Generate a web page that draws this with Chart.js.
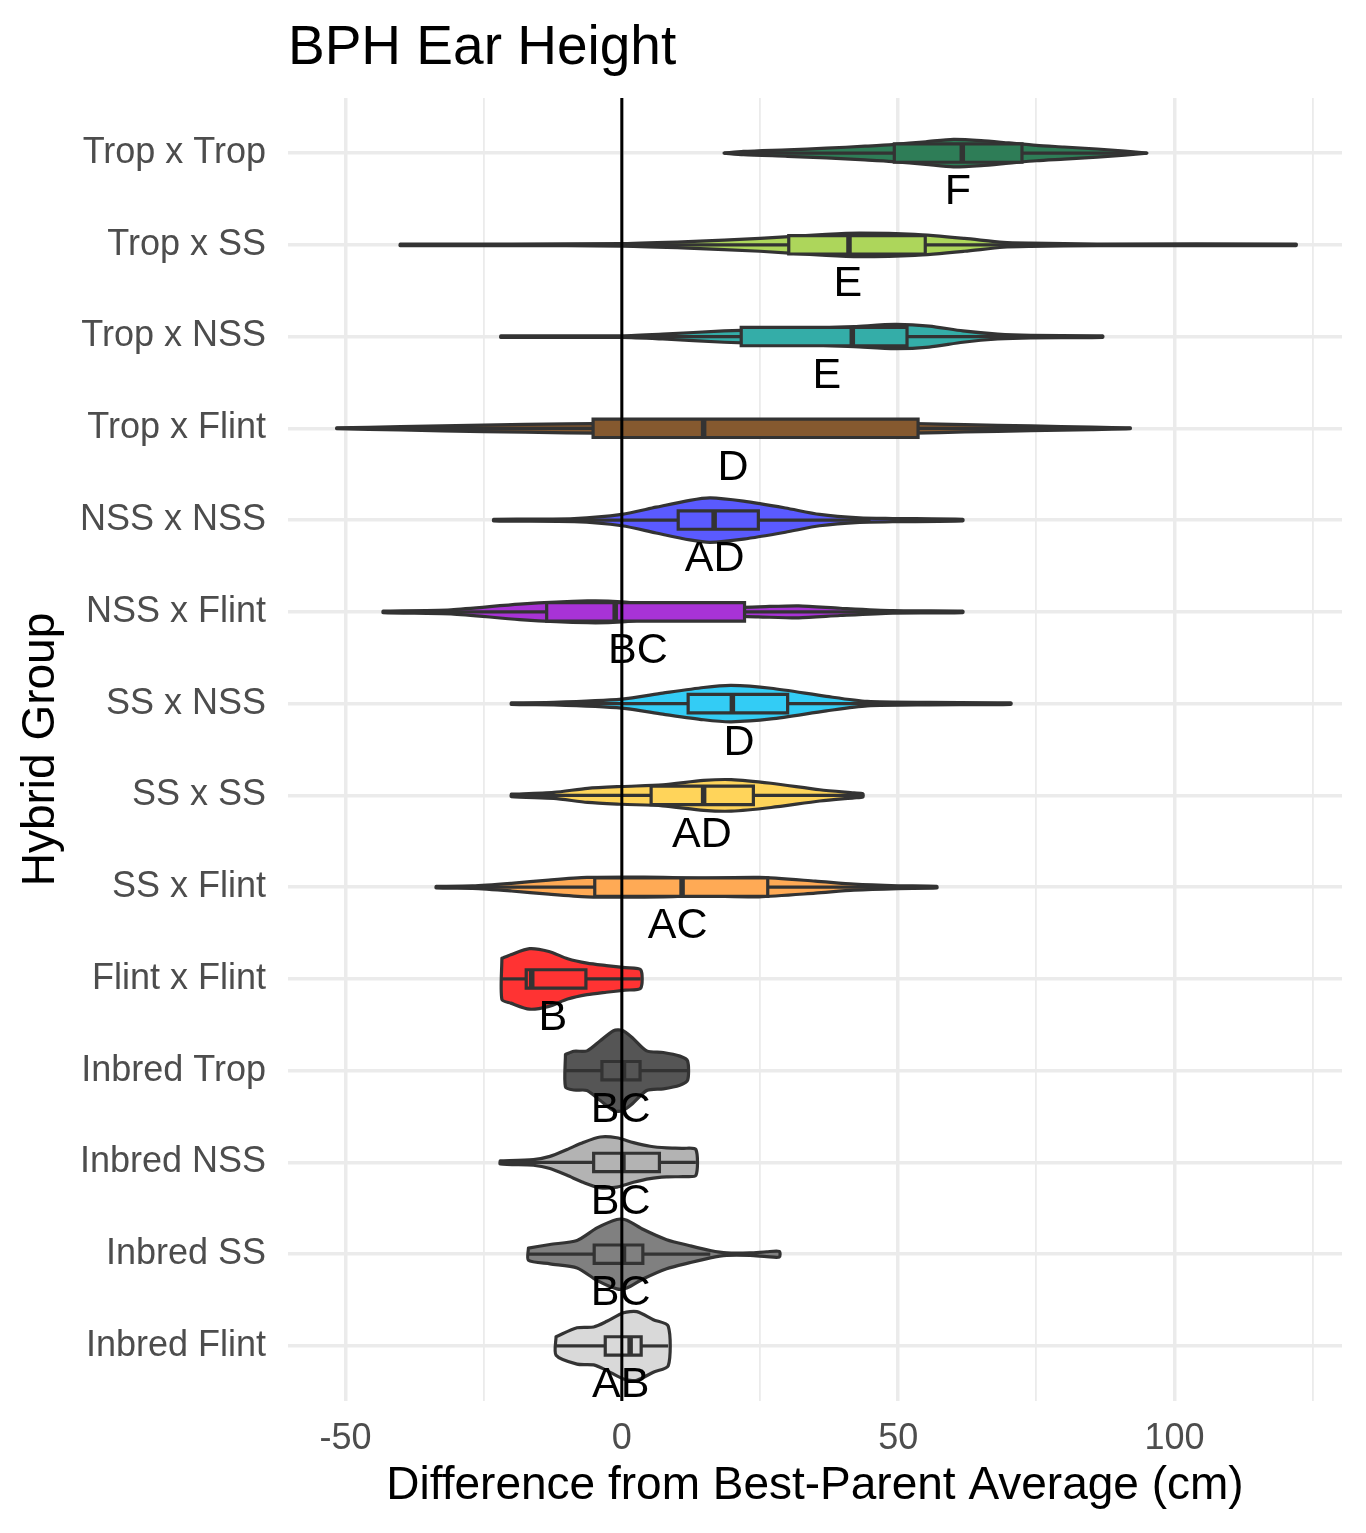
<!DOCTYPE html>
<html>
<head>
<meta charset="utf-8">
<title>BPH Ear Height</title>
<script src="https://cdn.jsdelivr.net/npm/chart.js@4.4.1/dist/chart.umd.min.js"></script>
<style>
  html, body { margin: 0; padding: 0; background: #fff; }
  #wrap { position: relative; width: 1366px; height: 1533px; }
</style>
</head>
<body>
<div id="wrap"><canvas id="chart"></canvas></div>
<script>
const categories = ['Trop x Trop', 'Trop x SS', 'Trop x NSS', 'Trop x Flint', 'NSS x NSS', 'NSS x Flint',
    'SS x NSS', 'SS x SS', 'SS x Flint', 'Flint x Flint', 'Inbred Trop', 'Inbred NSS', 'Inbred SS', 'Inbred Flint'];
const fillColors = ['#2E7D57', '#ADD65B', '#34ADA8', '#85592F', '#5A5AFF', '#A833D6', '#33CCF5',
    '#FFD45A', '#FFAA55', '#FF3333', '#555555', '#B3B3B3', '#808080', '#D9D9D9'];

// box stats (cm)
const q1 = [49.3, 30.2, 21.6, -5.2, 10.2, -13.6, 12, 5.3, -4.9, -17.3, -3.6, -5.1, -5, -3];
const median = [61.6, 41.1, 41.7, 14.8, 16.7, -1.2, 20, 14.8, 10.9, -16.3, 0.3, 0.2, 0.3, 1.5];
const q3 = [72.4, 54.9, 51.6, 53.6, 24.7, 22.2, 30, 23.8, 26.4, -6.5, 3.3, 6.8, 3.8, 3.5];
const whiskerLo = [18.5, -5, -21.9, -51.6, -10, -43.2, -12, -20, -33.6, -21.7, -10.2, -22, -16.9, -11.9];
const whiskerHi = [95, 87, 87, 92, 45, 61.7, 55, 43.6, 57, 3.4, 11.9, 13.4, 16, 8.4];

// group letters and where they sit
const letters = ['F', 'E', 'E', 'D', 'AD', 'BC', 'D', 'AD', 'AC', 'B', 'BC', 'BC', 'BC', 'AB'];
const letterX = [60.8, 40.9, 37.1, 20.1, 16.8, 2.9, 21.2, 14.5, 10.1, -12.5, -0.2, -0.2, -0.2, -0.2];

// violin outlines: [value in cm, relative density]
const densities = [
    [[18.5,0],[22,.04],[30,.08],[37,.12],[44,.17],[49,.21],[55,.28],[60,.34],[65,.31],[70,.25],[75,.19],[80,.15],[86,.1],[91,.05],[95,0]],
    [[-40.1,.02],[-20,.02],[0,.03],[12,.08],[25,.16],[37,.26],[43,.29],[53,.26],[62,.16],[69,.06],[74,.04],[86,.02],[122,.02]],
    [[-21.9,.02],[0,.02],[7.4,.06],[18.5,.14],[30.9,.19],[42,.25],[49.4,.3],[55.6,.26],[61.7,.14],[68,.06],[74,.03],[87,.02]],
    [[-51.6,.01],[-40,.04],[-25,.08],[-10,.11],[0,.12],[10,.11],[20,.08],[28,.05],[35,.08],[45,.12],[53,.12],[62,.09],[74,.06],[85,.03],[92,.01]],
    [[-23.2,.02],[-8.6,.04],[0,.14],[6.2,.32],[12.3,.49],[16,.55],[22,.47],[29.6,.3],[35.8,.14],[43,.055],[49,.04],[61.7,.02]],
    [[-43.2,.02],[-30.9,.05],[-18.5,.19],[-6.2,.27],[0,.25],[7.4,.15],[14.8,.09],[24.7,.125],[32,.15],[39.5,.09],[49,.03],[61.7,.02]],
    [[-20,.02],[-12.3,.03],[0,.11],[7.4,.26],[14.8,.4],[19.8,.45],[27,.38],[37,.18],[44.4,.055],[55.6,.03],[70.4,.02]],
    [[-20,.03],[-12.3,.075],[-6.2,.175],[0,.22],[7.4,.26],[14.8,.37],[19.8,.39],[27,.3],[35.8,.14],[42,.06],[43.6,.04]],
    [[-33.6,.02],[-27,.03],[-20,.095],[-13.2,.175],[-6.3,.24],[0.6,.25],[7.5,.24],[14.5,.22],[24.8,.24],[35,.15],[42,.075],[50,.035],[57,.02]],
    [[-21.7,.51],[-20.1,.6],[-16.7,.75],[-13.2,.68],[-9.8,.5],[-6.3,.39],[-2.8,.33],[0.6,.28],[3.4,.23]],
    [[-10.2,.4],[-8.7,.48],[-6.3,.49],[-3.9,.74],[-1.5,.99],[0,1],[1.8,.83],[4.5,.49],[7.5,.45],[10.5,.36],[11.9,.24]],
    [[-22,.04],[-16,.07],[-13,.15],[-9.9,.32],[-6.9,.5],[-3.9,.63],[-0.9,.61],[2.1,.49],[5.1,.4],[8.1,.36],[11.1,.35],[13.4,.32]],
    [[-16.9,.15],[-13,.24],[-8.1,.34],[-4.5,.65],[-0.9,.86],[0.9,.84],[3.9,.61],[8.1,.36],[12.3,.21],[16,.09],[19,.03],[23.2,.03],[26.2,.06],[28.5,.07]],
    [[-11.9,.23],[-8.1,.45],[-5.1,.47],[-2.7,.61],[0.3,.82],[2.7,.85],[5.7,.65],[8.4,.49]]
];

const xTicks = [-50, -25, 0, 25, 50, 75, 100, 125];

const VIOLIN_HALF = 0.44;
const BOX_HALF = 0.1;
const OUTLINE = '#333333';
const LINE_W = 3.2;
const FONT = '"Liberation Sans", Arial, Helvetica, sans-serif';

Chart.defaults.font.family = FONT;

function violinPoints(i) {
    const d = densities[i];
    const top = d.map(p => ({ x: p[0], y: i - p[1] * VIOLIN_HALF }));
    const bottom = d.slice().reverse().map(p => ({ x: p[0], y: i + p[1] * VIOLIN_HALF }));
    return top.concat(bottom, [top[0]]);
}

function boxPoints(i) {
    return [
        { x: q1[i], y: i - BOX_HALF }, { x: q3[i], y: i - BOX_HALF },
        { x: q3[i], y: i + BOX_HALF }, { x: q1[i], y: i + BOX_HALF },
        { x: q1[i], y: i - BOX_HALF }, { x: q3[i], y: i - BOX_HALF }
    ];
}

const datasets = [];
categories.forEach((cat, i) => {
    datasets.push({
        label: cat, data: violinPoints(i), backgroundColor: fillColors[i],
        borderColor: OUTLINE, borderWidth: LINE_W, fill: 'shape', tension: 0.25,
        borderJoinStyle: 'round', borderCapStyle: 'round', order: 5
    });
    datasets.push({
        data: [{ x: whiskerLo[i], y: i }, { x: q1[i], y: i }],
        borderColor: OUTLINE, borderWidth: LINE_W, fill: false, order: 4
    });
    datasets.push({
        data: [{ x: q3[i], y: i }, { x: whiskerHi[i], y: i }],
        borderColor: OUTLINE, borderWidth: LINE_W, fill: false, order: 4
    });
    datasets.push({
        data: boxPoints(i), backgroundColor: fillColors[i], borderColor: OUTLINE,
        borderWidth: LINE_W, fill: 'shape', tension: 0, borderJoinStyle: 'miter', order: 3
    });
    datasets.push({
        data: [{ x: median[i], y: i - BOX_HALF }, { x: median[i], y: i + BOX_HALF }],
        borderColor: OUTLINE, borderWidth: 5.5, fill: false, order: 2
    });
});
// reference line at zero
datasets.push({
    data: [{ x: 0, y: -0.6 }, { x: 0, y: categories.length - 0.4 }],
    borderColor: '#000000', borderWidth: 3, fill: false, order: 1
});

const titlePlugin = {
    id: 'plotTitle',
    afterDraw(chart) {
        const ctx = chart.ctx;
        ctx.save();
        ctx.font = '55px ' + FONT;
        ctx.fillStyle = '#000';
        ctx.textAlign = 'left';
        ctx.textBaseline = 'alphabetic';
        ctx.fillText('BPH Ear Height', chart.chartArea.left, 64);
        ctx.restore();
    }
};

const letterPlugin = {
    id: 'groupLetters',
    afterDatasetsDraw(chart) {
        const { ctx, scales: { x, y } } = chart;
        ctx.save();
        ctx.font = '43px ' + FONT;
        ctx.fillStyle = '#000';
        ctx.textAlign = 'center';
        ctx.textBaseline = 'middle';
        letters.forEach((t, i) => {
            ctx.fillText(t, x.getPixelForValue(letterX[i]), y.getPixelForValue(i + 0.43));
        });
        ctx.restore();
    }
};

new Chart(document.getElementById('chart'), {
    type: 'line',
    data: { datasets },
    options: {
        responsive: true,
        maintainAspectRatio: false,
        devicePixelRatio: 1,
        animation: false,
        events: [],
        layout: { padding: { top: 98, right: 24, bottom: 0, left: 0 } },
        elements: { point: { radius: 0, hoverRadius: 0 } },
        plugins: { legend: { display: false }, tooltip: { enabled: false }, title: { display: false } },
        scales: {
            x: {
                type: 'linear',
                min: -60.4,
                max: 130.3,
                afterBuildTicks: scale => { scale.ticks = xTicks.map(v => ({ value: v })); },
                afterFit: scale => { scale.height = 132; },
                ticks: {
                    padding: 16,
                    color: '#4D4D4D',
                    font: { size: 36 },
                    maxRotation: 0,
                    autoSkip: false,
                    callback: v => (v % 50 === 0 ? String(v) : '')
                },
                grid: {
                    color: '#EBEBEB',
                    lineWidth: ctx => (ctx.tick && ctx.tick.value % 50 === 0 ? 3.5 : 1.8),
                    drawTicks: false
                },
                border: { display: false },
                title: {
                    display: true,
                    text: 'Difference from Best-Parent Average (cm)',
                    color: '#000',
                    font: { size: 46 },
                    padding: { top: 0, bottom: 19 }
                }
            },
            y: {
                type: 'linear',
                reverse: true,
                min: -0.6,
                max: categories.length - 0.4,
                afterBuildTicks: scale => { scale.ticks = categories.map((c, i) => ({ value: i })); },
                afterFit: scale => { scale.width = 288; },
                ticks: {
                    padding: 22,
                    color: '#4D4D4D',
                    font: { size: 36 },
                    autoSkip: false,
                    callback: v => categories[v] || ''
                },
                grid: { color: '#EBEBEB', lineWidth: 3.5, drawTicks: false },
                border: { display: false },
                title: {
                    display: true,
                    text: 'Hybrid Group',
                    color: '#000',
                    font: { size: 46 },
                    padding: { top: 14, bottom: 0 }
                }
            }
        }
    },
    plugins: [titlePlugin, letterPlugin]
});
</script>
</body>
</html>
